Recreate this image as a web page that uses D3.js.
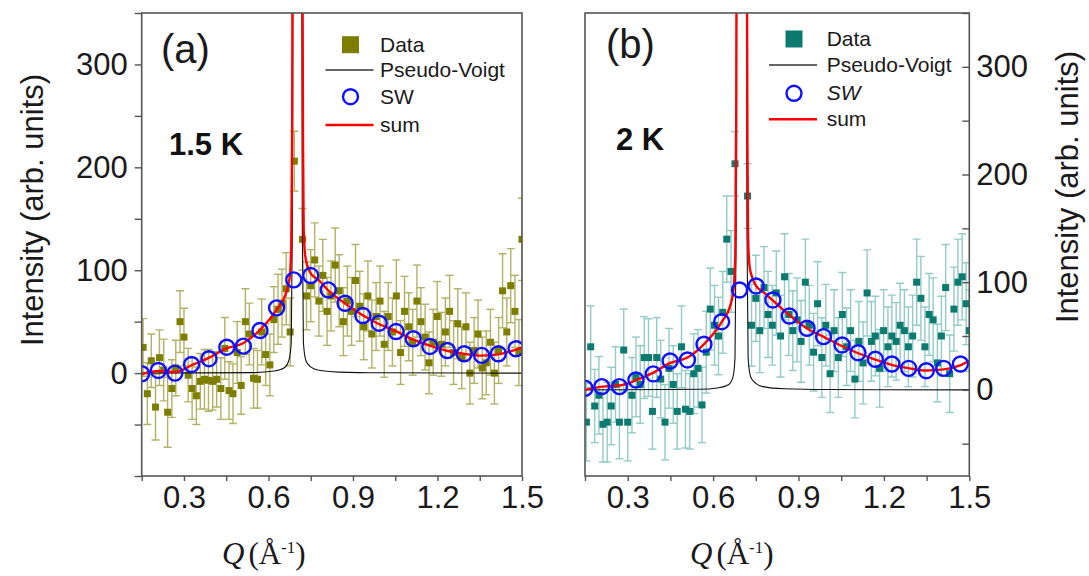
<!DOCTYPE html>
<html>
<head>
<meta charset="utf-8">
<script src="https://cdn.jsdelivr.net/npm/d3@7"></script>
<style>
body { margin: 0; background: #fff; }
svg { font-family: "Liberation Sans", Arial, sans-serif; }
</style>
</head>
<body>
<script>
// Q grid of the measured points (both panels)
var qGrid = [0.155,0.170,0.184,0.199,0.213,0.228,0.242,0.257,0.271,0.286,
  0.300,0.315,0.329,0.344,0.358,0.373,0.387,0.402,0.416,0.431,
  0.445,0.460,0.474,0.489,0.503,0.518,0.532,0.547,0.561,0.576,
  0.590,0.605,0.619,0.634,0.648,0.663,0.677,0.692,0.706,0.721,
  0.735,0.750,0.764,0.779,0.793,0.808,0.822,0.837,0.851,0.866,
  0.880,0.895,0.909,0.924,0.938,0.953,0.967,0.982,0.996,1.011,
  1.025,1.040,1.054,1.069,1.083,1.098,1.112,1.127,1.141,1.156,
  1.170,1.185,1.199,1.214,1.228,1.243,1.257,1.272,1.286,1.301,
  1.315,1.330,1.344,1.359,1.373,1.388,1.402,1.417,1.431,1.446,
  1.460,1.475,1.489,1.500];

// (a) 1.5 K data
var dataA = [25,-20,12,-33,15,3,-38,-15,5,50,
  35,-2,-15,-22,-8,-6,-7,-8,-6,-15,
  24,-17,-20,20,-12,50,38,-5,-6,40,
  18,8,52,62,68,82,40,206,null,130,
  75,85,110,70,95,60,75,105,80,50,
  70,60,90,65,45,75,38,55,70,28,
  55,40,75,20,60,45,30,70,50,35,
  10,30,55,28,40,60,20,48,15,45,
  0,22,38,5,10,30,0,22,80,40,
  85,60,20,130];
var errA = [28,30,26,32,27,30,34,28,27,30,
  28,26,30,28,27,29,30,28,27,30,
  30,28,29,30,28,32,30,29,28,32,
  30,30,32,34,33,35,33,29,0,30,
  33,35,36,34,35,33,34,36,35,33,
  34,33,35,34,32,34,33,33,34,32,
  33,33,35,31,34,33,32,35,33,32,
  30,32,34,31,33,35,31,34,30,33,
  30,32,33,30,31,32,30,32,36,33,
  36,35,32,40];

// (b) 2 K data
var dataB = [-30,40,-15,-5,-32,-30,-15,5,-30,37,
  -30,-5,12,5,30,30,-20,30,10,-30,
  20,5,-20,40,-18,-20,15,20,-14,35,
  75,60,50,72,140,110,210,null,null,180,
  60,85,55,95,70,60,90,50,105,70,
  55,65,45,100,60,35,80,30,60,15,
  55,30,70,40,55,10,45,25,90,45,
  50,20,55,40,50,45,60,55,40,50,
  100,85,40,70,65,25,50,95,15,75,
  100,105,80,55];
var errB = [36,38,34,36,35,37,36,35,34,38,
  36,35,37,36,38,36,35,37,36,35,
  37,36,35,38,36,35,37,36,35,38,
  38,37,36,38,40,38,30,0,0,30,
  38,40,39,38,40,37,39,38,40,38,
  37,39,38,40,37,36,39,37,38,36,
  38,37,39,36,38,36,37,38,40,37,
  37,36,38,37,38,36,39,38,37,38,
  40,39,37,38,39,36,37,40,36,39,
  40,40,38,38];

// spin-wave (SW) points
var swQA = [0.150,0.209,0.268,0.327,0.389,0.452,0.511,0.570,0.629,0.690,0.750,0.812,
  0.872,0.935,0.993,1.053,1.114,1.173,1.235,1.295,1.357,1.416,1.479];
var swA = [-0.6,2.6,0,8.4,14,25.2,26.2,41.4,63.4,90.6,94.8,80.9,67.9,56,48.5,40.4,
  33.4,25.9,22,18.8,17.2,18.8,23.7];
var swQB = [0.150,0.209,0.271,0.329,0.390,0.449,0.510,0.568,0.630,0.693,0.751,0.810,
  0.868,0.930,0.988,1.053,1.109,1.170,1.228,1.287,1.349,1.410,1.469];
var swB = [1.5,3,3,9.2,14.8,26.8,27.8,42.4,63.3,92.8,96.5,83.5,68.6,57.2,49.4,41.7,
  34.5,28.4,24,20,17.8,20,24];

// Pseudo-Voigt curves
var pvQA = [0.15,0.55,0.62,0.655,0.672,0.681,0.685,0.687,0.718,0.720,0.724,0.733,0.75,0.775,0.85,1.0,1.5];
var pvA  = [0,0.5,2,5,12,30,150,420,420,150,30,12,6,3,1,0.3,0];
var pvQB = [0.15,0.55,0.62,0.655,0.670,0.677,0.681,0.683,0.717,0.719,0.723,0.732,0.75,0.775,0.85,1.0,1.5];
var pvB  = [0,0.5,2,5,12,30,150,420,420,150,30,12,6,3,1,0.3,0];

// sum curves
var sumQA = [0.15,0.21,0.27,0.33,0.39,0.45,0.51,0.57,0.63,0.66,0.675,0.681,0.684,0.686,
  0.7205,0.7225,0.725,0.73,0.74,0.75,0.78,0.81,0.87,0.93,0.99,1.05,1.11,1.17,1.23,1.29,1.35,1.41,1.47,1.5];
var sumA = [-1,2,1,8,15,24,29,42,62,76,92,125,230,420,
  420,230,140,115,103,97,90,81,68,57,48,41,33,27,22,19,17,18,22,25];
var sumQB = [0.15,0.21,0.27,0.33,0.39,0.45,0.51,0.57,0.63,0.66,0.672,0.678,0.681,0.683,
  0.7185,0.7205,0.723,0.728,0.738,0.75,0.78,0.81,0.87,0.93,0.99,1.05,1.11,1.17,1.23,1.29,1.35,1.41,1.47,1.5];
var sumB = [0,3,4,9,16,25,30,43,63,78,94,125,230,420,
  420,230,140,115,104,97,90,83,69,57,49,41,34,28,23,20,18,19,23,27];

var xTicks = [0.15,0.3,0.45,0.6,0.75,0.9,1.05,1.2,1.35,1.5];
var xLabels = [0.3,0.6,0.9,1.2,1.5];
var yTicks = [-100,-50,0,50,100,150,200,250,300,350];
var yLabels = [0,100,200,300];

var W = 1089, H = 576;
var svg = d3.select("body").append("svg").attr("width", W).attr("height", H);

function fmtX(d) {
  var hit = xLabels.some(function(v) { return Math.abs(v - d) < 1e-6; });
  return hit ? d3.format(".1f")(d) : "";
}
function fmtY(d) { return yLabels.indexOf(d) >= 0 ? d : ""; }

function panel(o) {
  var x = d3.scaleLinear().domain([0.15, 1.5]).range([o.left, o.right]);
  var y = d3.scaleLinear().domain(o.yDomain).range([476, 13]);
  var g = svg.append("g");

  g.append("clipPath").attr("id", o.id)
    .append("rect").attr("x", o.left).attr("y", 13)
    .attr("width", o.right - o.left).attr("height", 463);
  var plot = g.append("g").attr("clip-path", "url(#" + o.id + ")");

  var pts = qGrid.map(function(q, i) { return {q: q, v: o.data[i], e: o.err[i]}; })
    .filter(function(d) { return d.v !== null; });

  // error bars
  var eb = plot.append("g").attr("stroke", o.errColor).attr("stroke-width", 1.4);
  eb.selectAll(".v").data(pts).enter().append("line")
    .attr("x1", function(d) { return x(d.q); }).attr("x2", function(d) { return x(d.q); })
    .attr("y1", function(d) { return y(d.v - d.e); }).attr("y2", function(d) { return y(d.v + d.e); });
  [-1, 1].forEach(function(s) {
    eb.selectAll(".c" + s).data(pts).enter().append("line")
      .attr("x1", function(d) { return x(d.q) - 4; }).attr("x2", function(d) { return x(d.q) + 4; })
      .attr("y1", function(d) { return y(d.v + s * d.e); }).attr("y2", function(d) { return y(d.v + s * d.e); });
  });

  // data markers
  plot.selectAll(".pt").data(pts).enter().append("rect")
    .attr("x", function(d) { return x(d.q) - 3.5; })
    .attr("y", function(d) { return y(d.v) - 3.5; })
    .attr("width", 7).attr("height", 7).attr("fill", o.color);

  var line = d3.line().curve(d3.curveMonotoneX)
    .x(function(d) { return x(d[0]); }).y(function(d) { return y(d[1]); });

  plot.append("path").datum(o.pvQ.map(function(q, i) { return [q, o.pv[i]]; }))
    .attr("d", line).attr("fill", "none").attr("stroke", "#111").attr("stroke-width", 1.1);
  plot.append("path").datum(o.sumQ.map(function(q, i) { return [q, o.sum[i]]; }))
    .attr("d", line).attr("fill", "none").attr("stroke", "#ff0000").attr("stroke-width", 2.4);

  plot.selectAll(".sw").data(o.swQ).enter().append("circle")
    .attr("cx", function(q) { return x(q); })
    .attr("cy", function(q, i) { return y(o.sw[i]); })
    .attr("r", 7.5).attr("fill", "none").attr("stroke", "#1010ff").attr("stroke-width", 2.4);

  // frame
  g.append("rect").attr("x", o.left).attr("y", 13)
    .attr("width", o.right - o.left).attr("height", 463)
    .attr("fill", "none").attr("stroke", "#555").attr("stroke-width", 1.6);

  // x axis
  var xa = g.append("g").attr("transform", "translate(0,476)")
    .call(d3.axisBottom(x).tickValues(xTicks).tickFormat(fmtX).tickSize(5).tickPadding(5));
  // y axis
  var ya;
  if (o.side === "left") {
    ya = g.append("g").attr("transform", "translate(" + o.left + ",0)")
      .call(d3.axisLeft(y).tickValues(yTicks.filter(function(v) { return v >= o.yDomain[0]; }))
        .tickFormat(fmtY).tickSize(7).tickPadding(7));
  } else {
    ya = g.append("g").attr("transform", "translate(" + o.right + ",0)")
      .call(d3.axisRight(y).tickValues(yTicks.filter(function(v) { return v >= o.yDomain[0]; }))
        .tickFormat(fmtY).tickSize(-7).tickPadding(7));
  }
  [xa, ya].forEach(function(a) {
    a.select(".domain").remove();
    a.selectAll("line").attr("stroke", "#555").attr("stroke-width", 1.4);
    a.selectAll("text").attr("fill", "#1a1a1a")
      .style("font-size", "31px").style("font-family", "'Liberation Sans', Arial, sans-serif");
  });

  // x title
  var xt = g.append("text").attr("x", o.xTitleX).attr("y", 564)
    .style("font-family", "'Liberation Serif', 'Times New Roman', serif")
    .style("font-size", "31px").attr("fill", "#1a1a1a");
  xt.append("tspan").style("font-style", "italic").text("Q");
  xt.append("tspan").attr("dx", 4).text("(Å");
  xt.append("tspan").attr("dy", -11).style("font-size", "17px").text("-1");
  xt.append("tspan").attr("dy", 11).text(")");

  // y title
  g.append("text").attr("transform", "translate(" + o.yTitleX + "," + o.yTitleY + ") rotate(-90)")
    .attr("text-anchor", "middle").style("font-size", "31px").attr("fill", "#1a1a1a")
    .text("Intensity (arb. units)");

  // panel label and temperature
  g.append("text").attr("x", o.tagX).attr("y", o.tagY).style("font-size", "40px")
    .attr("fill", "#1a1a1a").text(o.tag);
  g.append("text").attr("x", o.tempX).attr("y", o.tempY).style("font-size", "31px")
    .style("font-weight", "bold").attr("fill", "#111").text(o.temp);

  // legend
  var L = o.legend, rows = L.rows;
  g.append("rect").attr("x", L.mx - 8.5).attr("y", rows[0] - 8.5).attr("width", 17).attr("height", 17)
    .attr("fill", o.color);
  g.append("line").attr("x1", L.mx - 25).attr("x2", L.mx + 23).attr("y1", rows[1]).attr("y2", rows[1])
    .attr("stroke", "#333").attr("stroke-width", 1.3);
  g.append("circle").attr("cx", L.mx).attr("cy", rows[2]).attr("r", 7.5)
    .attr("fill", "none").attr("stroke", "#1010ff").attr("stroke-width", 2.4);
  g.append("line").attr("x1", L.mx - 25).attr("x2", L.mx + 23).attr("y1", rows[3]).attr("y2", rows[3])
    .attr("stroke", "#ff0000").attr("stroke-width", 2.4);
  var names = ["Data", "Pseudo-Voigt", "SW", "sum"];
  names.forEach(function(n, i) {
    g.append("text").attr("x", L.tx).attr("y", rows[i] + 7).style("font-size", "21px")
      .style("font-style", (i === 2 && o.swItalic) ? "italic" : "normal")
      .attr("fill", "#1a1a1a").text(n);
  });
}

panel({
  id: "clipA", left: 141.7, right: 522, yDomain: [-100, 350], side: "left",
  data: dataA, err: errA, color: "#7d7d00", errColor: "#b2b266",
  swQ: swQA, sw: swA, pvQ: pvQA, pv: pvA, sumQ: sumQA, sum: sumA,
  xTitleX: 222, yTitleX: 43, yTitleY: 210,
  tag: "(a)", tagX: 161, tagY: 63, temp: "1.5 K", tempX: 169, tempY: 155,
  legend: {mx: 350.5, tx: 380, rows: [44.7, 70, 96.7, 125]}, swItalic: false
});
panel({
  id: "clipB", left: 585, right: 969.3, yDomain: [-80, 350], side: "right",
  data: dataB, err: errB, color: "#0d7a70", errColor: "#93cbc6",
  swQ: swQB, sw: swB, pvQ: pvQB, pv: pvB, sumQ: sumQB, sum: sumB,
  xTitleX: 690, yTitleX: 1078, yTitleY: 187,
  tag: "(b)", tagX: 606, tagY: 58, temp: "2 K", tempX: 616, tempY: 150,
  legend: {mx: 794, tx: 826.7, rows: [39, 65, 93.3, 119.3]}, swItalic: true
});
</script>
</body>
</html>
